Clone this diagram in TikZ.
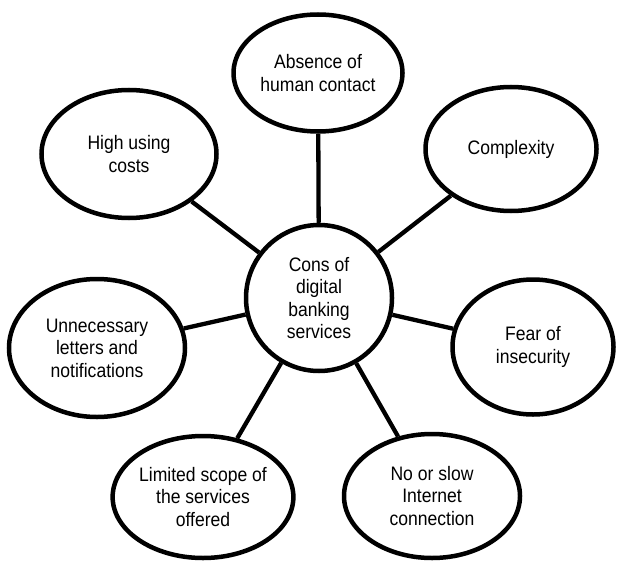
\documentclass[tikz,border=0pt]{standalone}
\usepackage{fontspec}
\setmainfont[FakeStretch=0.9]{Liberation Sans}
\usetikzlibrary{shapes.geometric}
\tikzset{
  bub/.style={ellipse, draw=black, line width=4.5pt, fill=white, inner sep=0pt, align=center,
    font=\fontsize{19.5}{22.5}\selectfont},
  hub/.style={circle, draw=black, line width=4.5pt, fill=white, inner sep=0pt, align=center,
    minimum size=146pt, font=\fontsize{19.5}{22.5}\selectfont},
  spoke/.style={line width=4.3pt, draw=black}
}
\begin{document}
\begin{tikzpicture}[x=1pt, y=-1pt]
\useasboundingbox (0,0) rectangle (617,564);
\node[hub] (c) at (319,298) {Cons of\\digital\\banking\\services};
\node[bub, minimum width=169pt, minimum height=117pt] (a) at (318,73) {Absence of\\human contact};
\node[bub, minimum width=175pt, minimum height=128pt] (h) at (129,154) {High using\\costs};
\node[bub, minimum width=171pt, minimum height=124pt] (x) at (511,149) {Complexity};
\node[bub, minimum width=176pt, minimum height=138pt] (u) at (97,348) {Unnecessary\\letters and\\notifications};
\node[bub, minimum width=161pt, minimum height=135pt] (f) at (533,347) {Fear of\\insecurity};
\node[bub, minimum width=177pt, minimum height=122pt] (l) at (203,497) {Limited scope of\\the services\\offered};
\node[bub, minimum width=176pt, minimum height=124pt] (n) at (432,496) {No or slow\\Internet\\connection};
\foreach \t in {a,h,x,u,f,l,n} {\draw[spoke] (c) -- (\t);}
\end{tikzpicture}
\end{document}
